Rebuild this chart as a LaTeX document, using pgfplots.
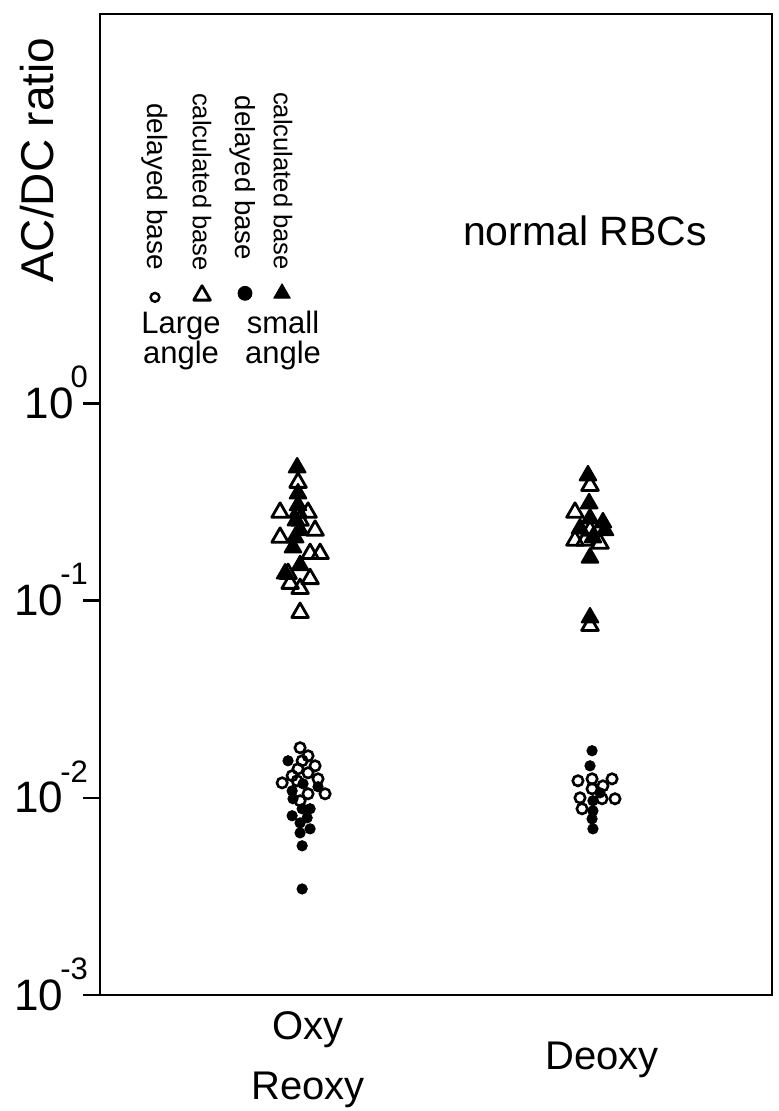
\documentclass[border=0pt]{standalone}
\usepackage{fontspec}
\setmainfont{Liberation Sans}
\usepackage{pgfplots}
\pgfplotsset{compat=1.18}
\usepackage{pgfplotstable}

% calculated base, large angle (open triangles)
\pgfplotstableread{
x y
1.000 0.397
0.939 0.280
1.000 0.280
1.034 0.280
1.007 0.255
1.058 0.227
0.939 0.209
1.041 0.173
1.075 0.173
0.966 0.137
1.041 0.129
0.973 0.122
1.007 0.115
1.007 0.0869
1.993 0.383
1.942 0.280
1.993 0.227
1.942 0.202
1.976 0.202
2.027 0.195
1.993 0.0747
}\calcLarge

% calculated base, small angle (filled triangles)
\pgfplotstableread{
x y
0.997 0.473
1.000 0.349
1.000 0.304
0.993 0.255
1.007 0.227
0.990 0.209
0.983 0.186
1.007 0.151
0.956 0.137
1.986 0.431
1.990 0.311
1.993 0.261
2.037 0.249
1.959 0.232
2.044 0.227
2.003 0.209
1.993 0.165
1.993 0.0820
}\calcSmall

% delayed base, large angle (open circles)
\pgfplotstableread{
x y
1.007 0.01795
1.034 0.01633
1.014 0.01541
1.058 0.01453
1.000 0.01403
1.034 0.01339
0.980 0.01294
0.946 0.01191
0.997 0.01220
1.068 0.01248
1.092 0.01048
1.034 0.01048
1.007 0.00966
1.952 0.01220
2.000 0.01248
2.068 0.01248
2.037 0.01150
2.000 0.01111
1.959 0.01000
2.034 0.00989
2.078 0.00989
1.966 0.00880
}\delayLarge

% delayed base, small angle (filled circles)
\pgfplotstableread{
x y
0.966 0.01541
1.017 0.01178
1.068 0.01138
0.980 0.01085
0.983 0.00989
1.041 0.00880
1.014 0.00880
0.980 0.00811
1.031 0.00792
1.007 0.00746
1.041 0.00696
1.007 0.00664
1.014 0.00571
1.014 0.00345
2.000 0.01733
1.993 0.01453
2.027 0.01060
2.003 0.00966
2.003 0.00859
2.000 0.00782
2.003 0.00696
}\delaySmall

% key symbols
\pgfplotstableread{
x y
0.5136 3.451
}\keyDelayLarge
\pgfplotstableread{
x y
0.6735 3.535
}\keyCalcLarge
\pgfplotstableread{
x y
0.8197 3.617
}\keyDelaySmall
\pgfplotstableread{
x y
0.9456 3.617
}\keyCalcSmall

\newcommand\dec[1]{10\kern-1.5pt\smash{\raisebox{0.7em}{\fontsize{15.5}{15.5}\selectfont #1}}}

\begin{document}
\begin{tikzpicture}
\begin{axis}[
  scale only axis,
  width=336pt, height=490.5pt,
  xmin=0.3265, xmax=2.612,
  ymode=log, ymin=1e-3, ymax=94.4,
  axis line style={line width=1.2pt},
  xtick={1,2},
  xticklabels={Oxy\\Reoxy, Deoxy},
  xtick style={draw=none},
  xticklabel style={align=center, anchor=center, yshift=-24pt, xshift=5pt,
    font=\fontsize{20}{30}\selectfont},
  ytick={1e-3,1e-2,1e-1,1},
  yticklabels={\dec{-3},\dec{-2},\dec{-1},\dec{0}},
  yticklabel style={font=\fontsize{22}{22}\selectfont, xshift=6pt},
  yminorticks=false,
  ytick pos=left,
  tick align=outside,
  major tick length=8.5pt,
  ytick style={line width=1.2pt, black},
  ylabel={AC/DC ratio},
  ylabel style={at={(axis description cs:-0.0699,0.851)}, anchor=base,
    font=\fontsize{23}{23}\selectfont},
  clip=false,
]
\addplot[only marks, mark=triangle, mark size=4.8pt,
  mark options={line width=1.4pt, line join=round}] table {\calcLarge};
\addplot[only marks, mark=triangle*, mark size=4.8pt,
  mark options={fill=black, line width=1pt, line join=round}] table {\calcSmall};
\addplot[only marks, mark=o, mark size=2.6pt,
  mark options={line width=1.3pt}] table {\delayLarge};
\addplot[only marks, mark=*, mark size=2.6pt,
  mark options={fill=black}] table {\delaySmall};

% key
\addplot[only marks, mark=o, mark size=2.2pt,
  mark options={line width=1.2pt}] table {\keyDelayLarge};
\addplot[only marks, mark=triangle, mark size=4.8pt,
  mark options={line width=1.4pt, line join=round}] table {\keyCalcLarge};
\addplot[only marks, mark=*, mark size=3.5pt,
  mark options={fill=black}] table {\keyDelaySmall};
\addplot[only marks, mark=triangle*, mark size=4.8pt,
  mark options={fill=black, line join=round}] table {\keyCalcSmall};

\node[rotate=-90, anchor=east, font=\fontsize{14}{14}\selectfont]
  at (rel axis cs:0.0818,0.7319) {delayed base};
\node[rotate=-90, anchor=east, font=\fontsize{12.8}{12.8}\selectfont]
  at (rel axis cs:0.1518,0.7309) {calculated base};
\node[rotate=-90, anchor=east, font=\fontsize{13.8}{13.8}\selectfont]
  at (rel axis cs:0.2128,0.7421) {delayed base};
\node[rotate=-90, anchor=east, font=\fontsize{12.8}{12.8}\selectfont]
  at (rel axis cs:0.2723,0.7319) {calculated base};
\node[align=center, anchor=center, font=\fontsize{15.5}{15}\selectfont]
  at (rel axis cs:0.1205,0.6667) {Large\\angle};
\node[align=center, anchor=center, font=\fontsize{15.5}{15}\selectfont]
  at (rel axis cs:0.2723,0.6667) {small\\angle};
\node[anchor=base, font=\fontsize{20.5}{20.5}\selectfont]
  at (rel axis cs:0.7217,0.7645) {normal RBCs};
\end{axis}
\pgfresetboundingbox
\path[use as bounding box] (-50pt,-58pt) rectangle (339pt,497.5pt);
\end{tikzpicture}
\end{document}
